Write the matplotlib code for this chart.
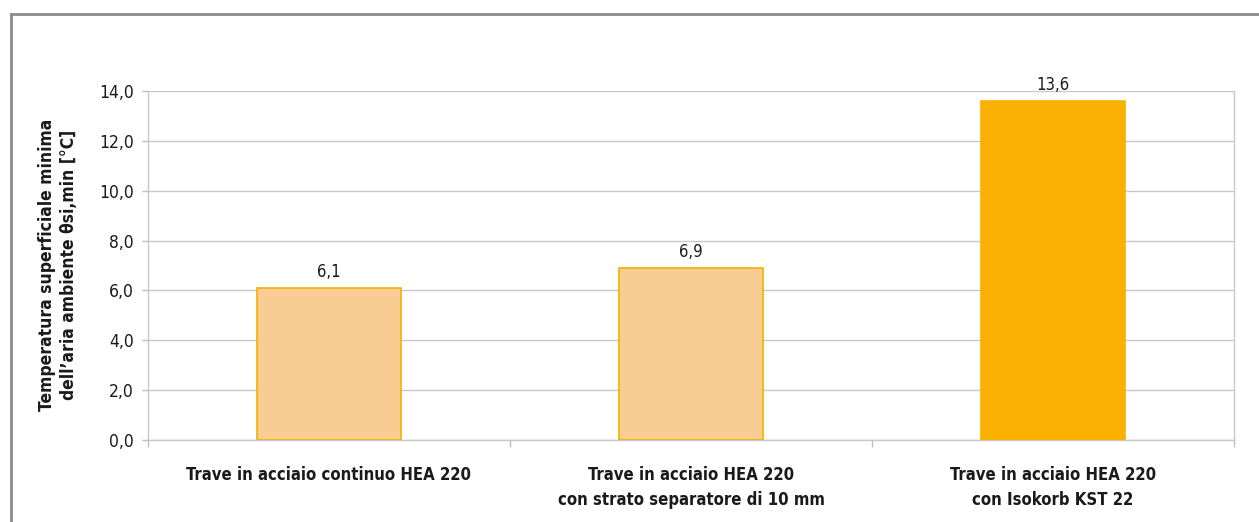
import matplotlib
matplotlib.use("Agg")
import matplotlib.pyplot as plt
from matplotlib.lines import Line2D

# Data
categories = [
    "Trave in acciaio continuo HEA 220",
    "Trave in acciaio HEA 220\ncon strato separatore di 10 mm",
    "Trave in acciaio HEA 220\ncon Isokorb KST 22",
]
values = [6.1, 6.9, 13.6]
y_ticks = [0, 2, 4, 6, 8, 10, 12, 14]
y_label = "Temperatura superficiale minima\ndell’aria ambiente θsi,min [°C]"

face_colors = ["#F9CC94", "#F9CC94", "#F9B000"]
edge_colors = ["#F5B000", "#F5B000", "#F9B000"]

plt.rcParams["font.family"] = ["DejaVu Sans"]
plt.rcParams["font.stretch"] = "condensed"

W, H = 1259, 522
fig = plt.figure(figsize=(W / 100, H / 100), dpi=100)
fig.patch.set_facecolor("white")

ax = fig.add_axes([148 / W, 1 - 440 / H, (1234 - 148) / W, (440 - 91) / H])

x = list(range(len(categories)))
ax.bar(x, values, width=0.40, color=face_colors, edgecolor=edge_colors,
       linewidth=1.2, zorder=3)

for xi, v in zip(x, values):
    ax.annotate(f"{v:.1f}".replace(".", ","), (xi, v), xytext=(0, 5),
                textcoords="offset points", ha="center", va="bottom",
                fontsize=12, color="#1a1a1a")

ax.set_xlim(-0.5, len(categories) - 0.5)
ax.set_ylim(0, 14)
ax.set_yticks(y_ticks)
ax.set_yticklabels([f"{t:.1f}".replace(".", ",") for t in y_ticks],
                   fontsize=12.5, color="#1a1a1a")
ax.grid(axis="y", color="#C8C8C8", linewidth=1.0, zorder=0)

ax.set_xticks(x)
ax.set_xticklabels(categories, fontsize=12, fontweight="bold",
                   color="#1a1a1a", linespacing=1.5)
ax.tick_params(axis="x", which="major", length=0, pad=19)
ax.set_xticks([i - 0.5 for i in range(len(categories) + 1)], minor=True)
ax.tick_params(axis="x", which="minor", length=5, color="#BDBDBD", width=1)
ax.tick_params(axis="y", length=4, color="#BDBDBD", width=1, pad=6)

for side in ["left", "right", "bottom", "top"]:
    ax.spines[side].set_color("#C8C8C8")
    ax.spines[side].set_linewidth(1.0)
ax.spines["top"].set_visible(False)

fig.text(58 / W, 1 - 265 / H, y_label, rotation=90, ha="center", va="center",
         fontsize=12.5, fontweight="bold", color="#1a1a1a", linespacing=1.3)

# Outer chart frame (top and left edges)
frame_color = "#8C8C8C"
fig.add_artist(Line2D([11 / W, 1.0], [1 - 13.5 / H, 1 - 13.5 / H],
                      transform=fig.transFigure, color=frame_color, linewidth=2))
fig.add_artist(Line2D([11 / W, 11 / W], [0, 1 - 13.5 / H],
                      transform=fig.transFigure, color=frame_color, linewidth=2))

fig.savefig("out.png", dpi=100, facecolor="white")
